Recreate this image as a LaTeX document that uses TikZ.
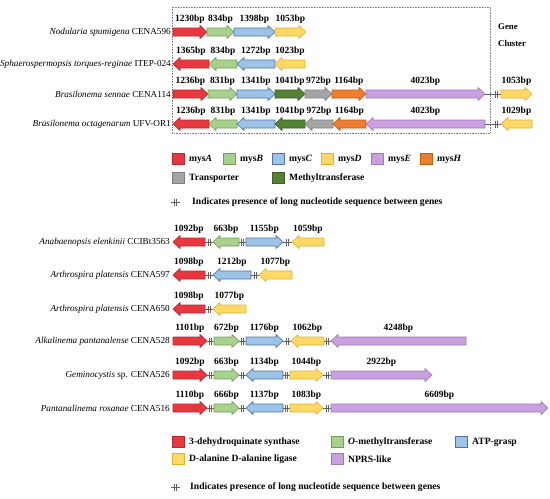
\documentclass[tikz,border=0pt]{standalone}
\usepackage{fontspec}
\setmainfont{Liberation Serif}
\newcounter{lbl}
\definecolor{cA}{HTML}{E8383F}
\definecolor{cAd}{HTML}{B8282E}
\definecolor{cB}{HTML}{A9D18E}
\definecolor{cBd}{HTML}{6F9F52}
\definecolor{cC}{HTML}{9DC3E6}
\definecolor{cCd}{HTML}{4F72AC}
\definecolor{cD}{HTML}{FFD966}
\definecolor{cDd}{HTML}{E0B030}
\definecolor{cE}{HTML}{C9A0E0}
\definecolor{cEd}{HTML}{A077C0}
\definecolor{cH}{HTML}{ED7D31}
\definecolor{cHd}{HTML}{C55A11}
\definecolor{cT}{HTML}{A5A5A5}
\definecolor{cTd}{HTML}{7F7F7F}
\definecolor{cM}{HTML}{548235}
\definecolor{cMd}{HTML}{3B5E23}
\definecolor{brkc}{HTML}{606060}
\tikzset{
  gene/.style={line width=0.6pt, line join=miter},
  gA/.style={fill=cA,draw=cAd},
  gB/.style={fill=cB,draw=cBd},
  gC/.style={fill=cC,draw=cCd},
  gD/.style={fill=cD,draw=cDd},
  gE/.style={fill=cE,draw=cEd},
  gH/.style={fill=cH,draw=cHd},
  gT/.style={fill=cT,draw=cTd},
  gM/.style={fill=cM,draw=cMd},
  bp/.style={font=\fontsize{9.5}{11}\selectfont\bfseries, inner sep=0pt},
  sp/.style={font=\fontsize{9.2}{11}\selectfont, inner sep=0pt, anchor=east},
  lg/.style={font=\fontsize{9.6}{11}\selectfont\bfseries, inner sep=0pt, anchor=west},
  brkline/.style={draw=brkc, line width=0.6pt},
}
\newcommand{\gR}[5]{%
  \path[gene,#4] (#1,#3-4) -- (#2-7,#3-4) -- (#2-7,#3-6.5) -- (#2,#3) -- (#2-7,#3+6.5) -- (#2-7,#3+4) -- (#1,#3+4) -- cycle;
  \stepcounter{lbl}\node[bp] (bp\arabic{lbl}) at ({(#1+#2)/2},#3-12.5) {#5};}
\newcommand{\gL}[5]{%
  \path[gene,#4] (#2,#3-4) -- (#1+7,#3-4) -- (#1+7,#3-6.5) -- (#1,#3) -- (#1+7,#3+6.5) -- (#1+7,#3+4) -- (#2,#3+4) -- cycle;
  \stepcounter{lbl}\node[bp] (bp\arabic{lbl}) at ({(#1+#2)/2},#3-12.5) {#5};}
\newcommand{\brk}[4]{%
  \draw[brkline] (#1,#4) -- (#2,#4);
  \draw[brkline] (#3-1.2,#4-3.5) -- ++(0,7);
  \draw[brkline] (#3+1.2,#4-3.5) -- ++(0,7);}
\newcommand{\lsq}[4]{%
  \path[gene,#3] (#1,#2-5.5) rectangle ++(12,11);
  \stepcounter{lbl}\node[lg] (lg\arabic{lbl}) at (#1+17,#2) {#4};}
\begin{document}
\begin{tikzpicture}[x=1pt,y=-1pt]
\useasboundingbox[fill=white] (0,0) rectangle (550,499);
% gene cluster box
\draw[densely dotted, gray, line width=0.6pt] (172,7) rectangle (490,133);
\node[lg] (gene) at (498,27) {\fontsize{8.8}{10}\selectfont Gene};
\node[lg] (cluster) at (498,43) {\fontsize{8.8}{10}\selectfont Cluster};
% species (top)
\node[sp] (s1) at (171,32) {\textit{Nodularia spumigena} CENA596};
\node[sp] (s2) at (171,64) {\textit{Sphaerospermopsis torques-reginae} ITEP-024};
\node[sp] (s3) at (171,94) {\textit{Brasilonema sennae} CENA114};
\node[sp] (s4) at (171,124) {\textit{Brasilonema octagenarum} UFV-OR1};
% row 1
\gR{173}{207}{32}{gA}{1230bp}
\gR{207}{234}{32}{gB}{834bp}
\gR{234}{275}{32}{gC}{1398bp}
\gR{275}{306}{32}{gD}{1053bp}
% row 2
\gL{173}{209}{64}{gA}{1365bp}
\gL{209}{237}{64}{gB}{834bp}
\gL{237}{275}{64}{gC}{1272bp}
\gL{275}{305}{64}{gD}{1023bp}
% row 3
\gR{173}{208}{94}{gA}{1236bp}
\gR{208}{237}{94}{gB}{831bp}
\gR{237}{275}{94}{gC}{1341bp}
\gR{275}{305}{94}{gM}{1041bp}
\gR{305}{332}{94}{gT}{972bp}
\gR{332}{366}{94}{gH}{1164bp}
\gR{366}{485}{94}{gE}{4023bp}
\brk{485}{501}{496}{94}
\gR{501}{532}{94}{gD}{1053bp}
% row 4
\gL{173}{209}{124}{gA}{1236bp}
\gL{209}{237}{124}{gB}{831bp}
\gL{237}{275}{124}{gC}{1341bp}
\gL{275}{305}{124}{gM}{1041bp}
\gL{305}{333}{124}{gT}{972bp}
\gL{333}{366}{124}{gH}{1164bp}
\gL{366}{485}{124}{gE}{4023bp}
\brk{485}{501}{496}{124}
\gL{501}{532}{124}{gD}{1029bp}
% legend 1
\lsq{172}{159}{gA}{mys\textit{A}}
\lsq{223}{159}{gB}{mys\textit{B}}
\lsq{272}{159}{gC}{mys\textit{C}}
\lsq{321}{159}{gD}{mys\textit{D}}
\lsq{371}{159}{gE}{mys\textit{E}}
\lsq{420}{159}{gH}{mys\textit{H}}
\lsq{172}{178}{gT}{Transporter}
\lsq{272}{178}{gM}{Methyltransferase}
\brk{171}{180}{175.5}{202}
\node[lg] (brktxt1) at (192,202) {Indicates presence of long nucleotide sequence between genes};
% species (bottom)
\node[sp] (b1) at (170,242) {\textit{Anabaenopsis elenkinii} CCIBt3563};
\node[sp] (b2) at (170,275) {\textit{Arthrospira platensis} CENA597};
\node[sp] (b3) at (170,309) {\textit{Arthrospira platensis} CENA650};
\node[sp] (b4) at (170,341) {\textit{Alkalinema pantanalense} CENA528};
\node[sp] (b5) at (170,375) {\textit{Geminocystis} sp. CENA526};
\node[sp] (b6) at (170,408) {\textit{Pantanalinema rosanae} CENA516};
% row A
\gL{173}{205}{242}{gA}{1092bp}
\brk{205}{213}{209}{242}
\gL{213}{239}{242}{gB}{663bp}
\brk{239}{246}{242.5}{242}
\gR{246}{283}{242}{gC}{1155bp}
\brk{283}{292}{287.5}{242}
\gL{292}{324}{242}{gD}{1059bp}
% row B
\gL{173}{205}{275}{gA}{1098bp}
\brk{205}{213}{209}{275}
\gL{213}{251}{275}{gC}{1212bp}
\brk{251}{259}{255}{275}
\gL{259}{292}{275}{gD}{1077bp}
% row C
\gL{173}{205}{309}{gA}{1098bp}
\brk{205}{213}{209}{309}
\gL{213}{246}{309}{gD}{1077bp}
% row D
\gR{173}{207}{341}{gA}{1101bp}
\brk{207}{214}{210.5}{341}
\gR{214}{239}{341}{gB}{672bp}
\brk{239}{246}{242.5}{341}
\gR{246}{283}{341}{gC}{1176bp}
\brk{283}{291}{287}{341}
\gL{291}{324}{341}{gD}{1062bp}
\brk{324}{331}{327.5}{341}
\gL{331}{466}{341}{gE}{4248bp}
% row E
\gR{173}{207}{375}{gA}{1092bp}
\brk{207}{214}{210.5}{375}
\gR{214}{239}{375}{gB}{663bp}
\brk{239}{246}{242.5}{375}
\gL{246}{283}{375}{gC}{1134bp}
\brk{283}{290}{286.5}{375}
\gR{290}{323}{375}{gD}{1044bp}
\brk{323}{331}{327}{375}
\gR{331}{432}{375}{gE}{2922bp}
% row F
\gR{173}{207}{408}{gA}{1110bp}
\brk{207}{214}{210.5}{408}
\gR{214}{239}{408}{gB}{666bp}
\brk{239}{246}{242.5}{408}
\gL{246}{283}{408}{gC}{1137bp}
\brk{283}{290}{286.5}{408}
\gR{290}{323}{408}{gD}{1083bp}
\brk{323}{331}{327}{408}
\gR{331}{548}{408}{gE}{6609bp}
% legend 2
\lsq{172}{442}{gA}{3-dehydroquinate synthase}
\lsq{331}{442}{gB}{\textit{O}-methyltransferase}
\lsq{455}{442}{gC}{ATP-grasp}
\lsq{172}{459}{gD}{D-alanine D-alanine ligase}
\lsq{331}{459}{gE}{NPRS-like}
\brk{171}{180}{175.5}{487}
\node[lg] (brktxt2) at (190,487) {Indicates presence of long nucleotide sequence between genes};
\end{tikzpicture}
\end{document}
